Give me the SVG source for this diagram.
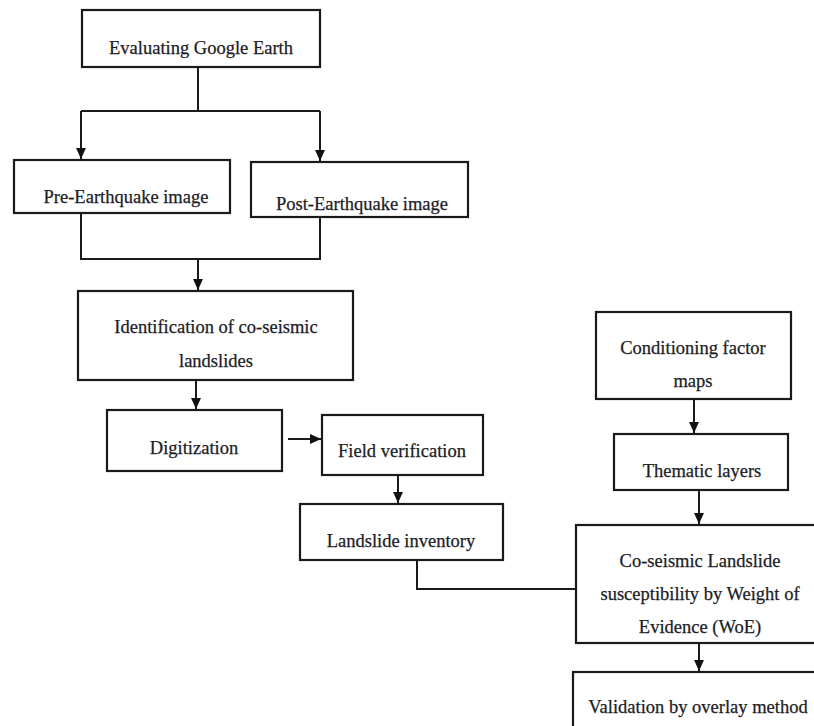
<svg xmlns="http://www.w3.org/2000/svg" width="814" height="726" viewBox="0 0 814 726">
<defs>
<marker id="ah" markerUnits="userSpaceOnUse" markerWidth="11" markerHeight="11" viewBox="0 0 10 10" refX="10" refY="5" orient="auto">
<path d="M0,0.5 L10,5 L0,9.5 Z" fill="#111"/>
</marker>
<style>
.box{fill:#fff;stroke:#1a1a1a;stroke-width:2.2}
.t{font-family:"Liberation Serif","Times New Roman",serif;font-size:18.5px;fill:#1c1c24;stroke:#1c1c24;stroke-width:0.25;text-anchor:middle}
.c{fill:none;stroke:#1a1a1a;stroke-width:2}
</style>
</defs>
<rect width="814" height="726" fill="#fff"/>
<g id="connectors">
<path class="c" d="M198,67 V111"/>
<path class="c" d="M81,111 H320"/>
<path class="c" d="M81,111 V159" marker-end="url(#ah)"/>
<path class="c" d="M320,111 V161" marker-end="url(#ah)"/>
<path class="c" d="M81,213 V259 H320 V217"/>
<path class="c" d="M198,259 V290" marker-end="url(#ah)"/>
<path class="c" d="M196,380 V409" marker-end="url(#ah)"/>
<path class="c" d="M288,439 H321" marker-end="url(#ah)"/>
<path class="c" d="M398,475 V503" marker-end="url(#ah)"/>
<path class="c" d="M417,560 V589 H576"/>
<path class="c" d="M694,399 V433" marker-end="url(#ah)"/>
<path class="c" d="M699,490 V524" marker-end="url(#ah)"/>
<path class="c" d="M699,643 V671" marker-end="url(#ah)"/>
</g>
<g id="evaluating">
<rect class="box" x="82" y="10" width="238" height="57"/>
<text class="t" x="201" y="54">Evaluating Google Earth</text>
</g>
<g id="pre">
<rect class="box" x="14" y="160" width="216" height="53"/>
<text class="t" x="126" y="203">Pre-Earthquake image</text>
</g>
<g id="post">
<rect class="box" x="251" y="162" width="217" height="55"/>
<text class="t" x="362" y="210">Post-Earthquake image</text>
</g>
<g id="identification">
<rect class="box" x="78" y="291" width="275" height="89"/>
<text class="t" x="216" y="333">Identification of co-seismic</text>
<text class="t" x="216" y="367">landslides</text>
</g>
<g id="digitization">
<rect class="box" x="107" y="410" width="175" height="61"/>
<text class="t" x="194" y="454">Digitization</text>
</g>
<g id="field">
<rect class="box" x="322" y="415" width="161" height="60"/>
<text class="t" x="402" y="457">Field verification</text>
</g>
<g id="inventory">
<rect class="box" x="300" y="504" width="203" height="56"/>
<text class="t" x="401" y="547">Landslide inventory</text>
</g>
<g id="conditioning">
<rect class="box" x="596" y="312" width="195" height="87"/>
<text class="t" x="693" y="354">Conditioning factor</text>
<text class="t" x="693" y="387">maps</text>
</g>
<g id="thematic">
<rect class="box" x="614" y="434" width="174" height="56"/>
<text class="t" x="702" y="477">Thematic layers</text>
</g>
<g id="woe">
<rect class="box" x="576" y="525" width="260" height="118"/>
<text class="t" x="700" y="567">Co-seismic Landslide</text>
<text class="t" x="700" y="600">susceptibility by Weight of</text>
<text class="t" x="700" y="633">Evidence (WoE)</text>
</g>
<g id="validation">
<rect class="box" x="573" y="672" width="260" height="70"/>
<text class="t" x="698" y="713">Validation by overlay method</text>
</g>
</svg>
